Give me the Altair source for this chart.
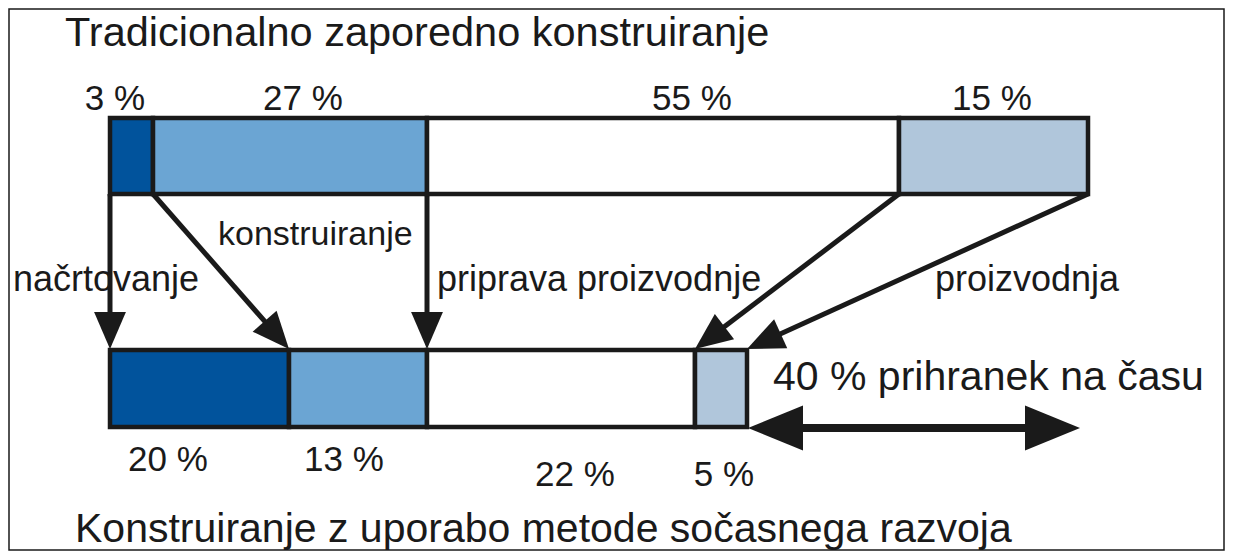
import math
import altair as alt
import pandas as pd

# ---------------- data ----------------
title_top = "Tradicionalno zaporedno konstruiranje"
title_bottom = "Konstruiranje z uporabo metode sočasnega razvoja"
saving_label = "40 % prihranek na času"

phase_names = ["načrtovanje", "konstruiranje", "priprava proizvodnje", "proizvodnja"]
phase_colors = ["#01539c", "#6ba5d3", "#ffffff", "#b0c6db"]

top_labels = ["3 %", "27 %", "55 %", "15 %"]
bottom_labels = ["20 %", "13 %", "22 %", "5 %"]

# schematic time-axis positions of the phase boundaries (drawing is not to scale)
top_edges = [110, 153, 427, 899, 1088]
bottom_edges = [110, 289, 427, 695, 747]
saving_end = 1080

# ---------------- layout ----------------
W, H = 1217, 544
X0, Y0 = 8, 8
xs = alt.Scale(domain=[X0, X0 + W], range=[0, W], nice=False, zero=False)
ys = alt.Scale(domain=[Y0, Y0 + H], range=[0, H], nice=False, zero=False)

TOP_Y = (118, 194)
BOT_Y = (350, 427)
INK = "#1a1a1a"
FONT = "Liberation Sans"


def X(f):
    return alt.X(f, type="quantitative", scale=xs, axis=None)


def Y(f):
    return alt.Y(f, type="quantitative", scale=ys, axis=None)


# frame
frame_df = pd.DataFrame([{"x": 9, "x2": 1224, "y": 9, "y2": 550}])
frame = alt.Chart(frame_df).mark_rect(fill="white", stroke=INK, strokeWidth=1.5).encode(
    x=X("x"), x2="x2", y=Y("y"), y2="y2"
)

# bars
rows = []
for i in range(4):
    rows.append({"x": top_edges[i], "x2": top_edges[i + 1], "y": TOP_Y[0], "y2": TOP_Y[1],
                 "color": phase_colors[i], "phase": phase_names[i]})
    rows.append({"x": bottom_edges[i], "x2": bottom_edges[i + 1], "y": BOT_Y[0], "y2": BOT_Y[1],
                 "color": phase_colors[i], "phase": phase_names[i]})
bars_df = pd.DataFrame(rows)
bars = alt.Chart(bars_df).mark_rect(stroke=INK, strokeWidth=4.5).encode(
    x=X("x"), x2="x2", y=Y("y"), y2="y2",
    fill=alt.Fill("color:N", scale=None),
)

# arrows from top bar to bottom bar
HEAD = 37
shafts, heads = [], []
for xt, xb in zip(top_edges, bottom_edges):
    x1, y1 = xt, TOP_Y[1]
    x2, y2 = xb, BOT_Y[0] - 1
    dx, dy = x2 - x1, y2 - y1
    L = math.hypot(dx, dy)
    ux, uy = dx / L, dy / L
    shafts.append({"x": x1, "y": y1, "x2": x2 - ux * (HEAD - 6), "y2": y2 - uy * (HEAD - 6)})
    ang = math.degrees(math.atan2(dx, -dy)) % 360
    heads.append({"x": x2, "y": y2, "angle": ang})
shaft_df = pd.DataFrame(shafts)
head_df = pd.DataFrame(heads)

shaft_layer = alt.Chart(shaft_df).mark_rule(color=INK, strokeWidth=5).encode(
    x=X("x"), y=Y("y"), x2="x2", y2="y2"
)
head_layer = alt.Chart(head_df).mark_point(
    shape="M0,0 L0.43,1 L-0.43,1 Z", filled=True, size=(2 * HEAD) ** 2,
    color=INK, opacity=1, strokeWidth=0,
).encode(x=X("x"), y=Y("y"), angle=alt.Angle("angle:Q", scale=None))

# double arrow for the time saving
BIG = 55
sav_y = BOT_Y[1] + 1
sav_shaft_df = pd.DataFrame([{"x": bottom_edges[-1] + BIG - 4, "x2": saving_end - BIG + 4, "y": sav_y}])
sav_head_df = pd.DataFrame([
    {"x": bottom_edges[-1] + 1, "y": sav_y, "angle": 270},
    {"x": saving_end, "y": sav_y, "angle": 90},
])
sav_shaft = alt.Chart(sav_shaft_df).mark_rule(color=INK, strokeWidth=8).encode(
    x=X("x"), x2="x2", y=Y("y")
)
sav_heads = alt.Chart(sav_head_df).mark_point(
    shape="M0,0 L0.41,1 L-0.41,1 Z", filled=True, size=(2 * BIG) ** 2,
    color=INK, opacity=1, strokeWidth=0,
).encode(x=X("x"), y=Y("y"), angle=alt.Angle("angle:Q", scale=None))

# texts
top_centers = [115, 303, 692, 992]
bot_centers = [168, 344, 575, 724]
bot_base = [471, 471, 486, 486]
pct_rows = []
for i in range(4):
    pct_rows.append({"x": top_centers[i], "y": 110, "t": top_labels[i]})
    pct_rows.append({"x": bot_centers[i], "y": bot_base[i], "t": bottom_labels[i]})
pct_df = pd.DataFrame(pct_rows)
pct_text = alt.Chart(pct_df).mark_text(
    align="center", baseline="alphabetic", font=FONT, fontSize=35, color=INK
).encode(x=X("x"), y=Y("y"), text="t:N")

name_df = pd.DataFrame([
    {"x": 13, "y": 291, "t": phase_names[0], "s": 36},
    {"x": 218, "y": 245, "t": phase_names[1], "s": 34},
    {"x": 437, "y": 291, "t": phase_names[2], "s": 36},
    {"x": 935, "y": 291, "t": phase_names[3], "s": 36},
])
name_text = alt.Chart(name_df).mark_text(
    align="left", baseline="alphabetic", font=FONT, color=INK
).encode(x=X("x"), y=Y("y"), text="t:N", size=alt.Size("s:Q", scale=None, legend=None))

big_df = pd.DataFrame([
    {"x": 65, "y": 46, "t": title_top, "s": 41.5},
    {"x": 75, "y": 542, "t": title_bottom, "s": 41},
    {"x": 773, "y": 390, "t": saving_label, "s": 41},
])
big_text = alt.Chart(big_df).mark_text(
    align="left", baseline="alphabetic", font=FONT, color=INK
).encode(x=X("x"), y=Y("y"), text="t:N", size=alt.Size("s:Q", scale=None, legend=None))

chart = alt.layer(
    frame, shaft_layer, sav_shaft, bars, head_layer, sav_heads, pct_text, name_text, big_text
).properties(
    width=W, height=H, autosize=alt.AutoSizeParams(type="none"), padding=0
).configure_view(stroke=None)

chart.save("out.html", embed_options={"renderer": "svg", "actions": False})
